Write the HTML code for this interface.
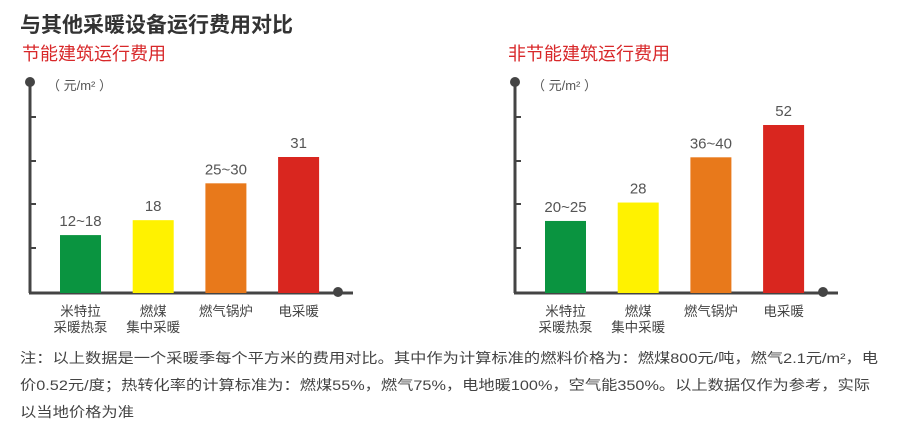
<!DOCTYPE html>
<html><head><meta charset="utf-8"><style>
html,body{margin:0;padding:0;background:#fff;}
svg{display:block;font-family:"Liberation Sans","Noto Sans CJK SC",sans-serif;}
</style></head><body>
<svg id="s" width="898" height="436" viewBox="0 0 898 436">
<text x="20" y="32" font-size="21" font-weight="bold" fill="#333">与其他采暖设备运行费用对比</text>
<text x="22" y="60" font-size="18" fill="#d8282a">节能建筑运行费用</text>
<text x="508" y="60" font-size="18" fill="#d8282a">非节能建筑运行费用</text>
<g id="left"></g>
<g id="right"></g>
<g fill="#444" font-size="14">
<text x="20" y="363" textLength="858" lengthAdjust="spacingAndGlyphs">注：以上数据是一个采暖季每个平方米的费用对比。其中作为计算标准的燃料价格为：燃煤800元/吨，燃气2.1元/m²，电</text>
<text x="20" y="390" textLength="850" lengthAdjust="spacingAndGlyphs">价0.52元/度；热转化率的计算标准为：燃煤55%，燃气75%，电地暖100%，空气能350%。以上数据仅作为参考，实际</text>
<text x="20" y="417" textLength="114" lengthAdjust="spacingAndGlyphs">以当地价格为准</text>
</g>
</svg>
<script>
const categories=["米特拉\n采暖热泵","燃煤\n集中采暖","燃气锅炉","电采暖"];
const colors=["#0a9440","#fff200","#e8791b","#d9261f"];
const leftValues=[13.2,16.6,25,31];
const leftLabels=["12~18","18","25~30","31"];
const rightValues=[22.3,28,42,52];
const rightLabels=["20~25","28","36~40","52"];
const NS="http://www.w3.org/2000/svg";
function mk(p,tag,a){const e=document.createElementNS(NS,tag);for(const k in a)e.setAttribute(k,a[k]);p.appendChild(e);return e;}
function draw(g,ax,barX0,step,scale,vals,labels){
  const base=293, top=82;
  const yAxis=mk(g,'line',{x1:ax,y1:top,x2:ax,y2:base,stroke:'#444','stroke-width':3});
  
  
  const xAxis=mk(g,'line',{x1:ax-1,y1:base,x2:ax+323,y2:base,stroke:'#444','stroke-width':3});
  
  
  const d1=mk(g,'circle',{cx:ax,cy:top,r:5,fill:'#444'});
  
  
  const d2=mk(g,'circle',{cx:ax+308,cy:base-1,r:5,fill:'#444'});
  
  
  [117,161,204,248].forEach(y=>{const t=mk(g,'line',{x1:ax,y1:y,x2:ax+6,y2:y,stroke:'#444','stroke-width':2});
    
    });
  const u=mk(g,'text',{x:ax+17,y:top+8,'font-size':13,fill:'#555'});u.textContent='（ 元/m² ）';
  
  
  vals.forEach((v,i)=>{
    const x=barX0+i*step, h=v*scale;
    const r=mk(g,'rect',{x:x,y:base-h,width:41,height:h,fill:colors[i]});
    
    
    const t=mk(g,'text',{x:x+20.5,y:base-h-9,'text-anchor':'middle','font-size':15,fill:'#555'});
    t.textContent=labels[i];
    
    
    categories[i].split('\n').forEach((ln,j)=>{
      const c=mk(g,'text',{x:x+20.5,y:316+j*16,'text-anchor':'middle','font-size':13.5,fill:'#444'});
      c.textContent=ln;
      
      
    });
  });
}
draw(document.getElementById('left'),30,60,72.7,136/31,leftValues,leftLabels);
draw(document.getElementById('right'),515,545,72.7,168/52,rightValues,rightLabels);
</script>
</body></html>
